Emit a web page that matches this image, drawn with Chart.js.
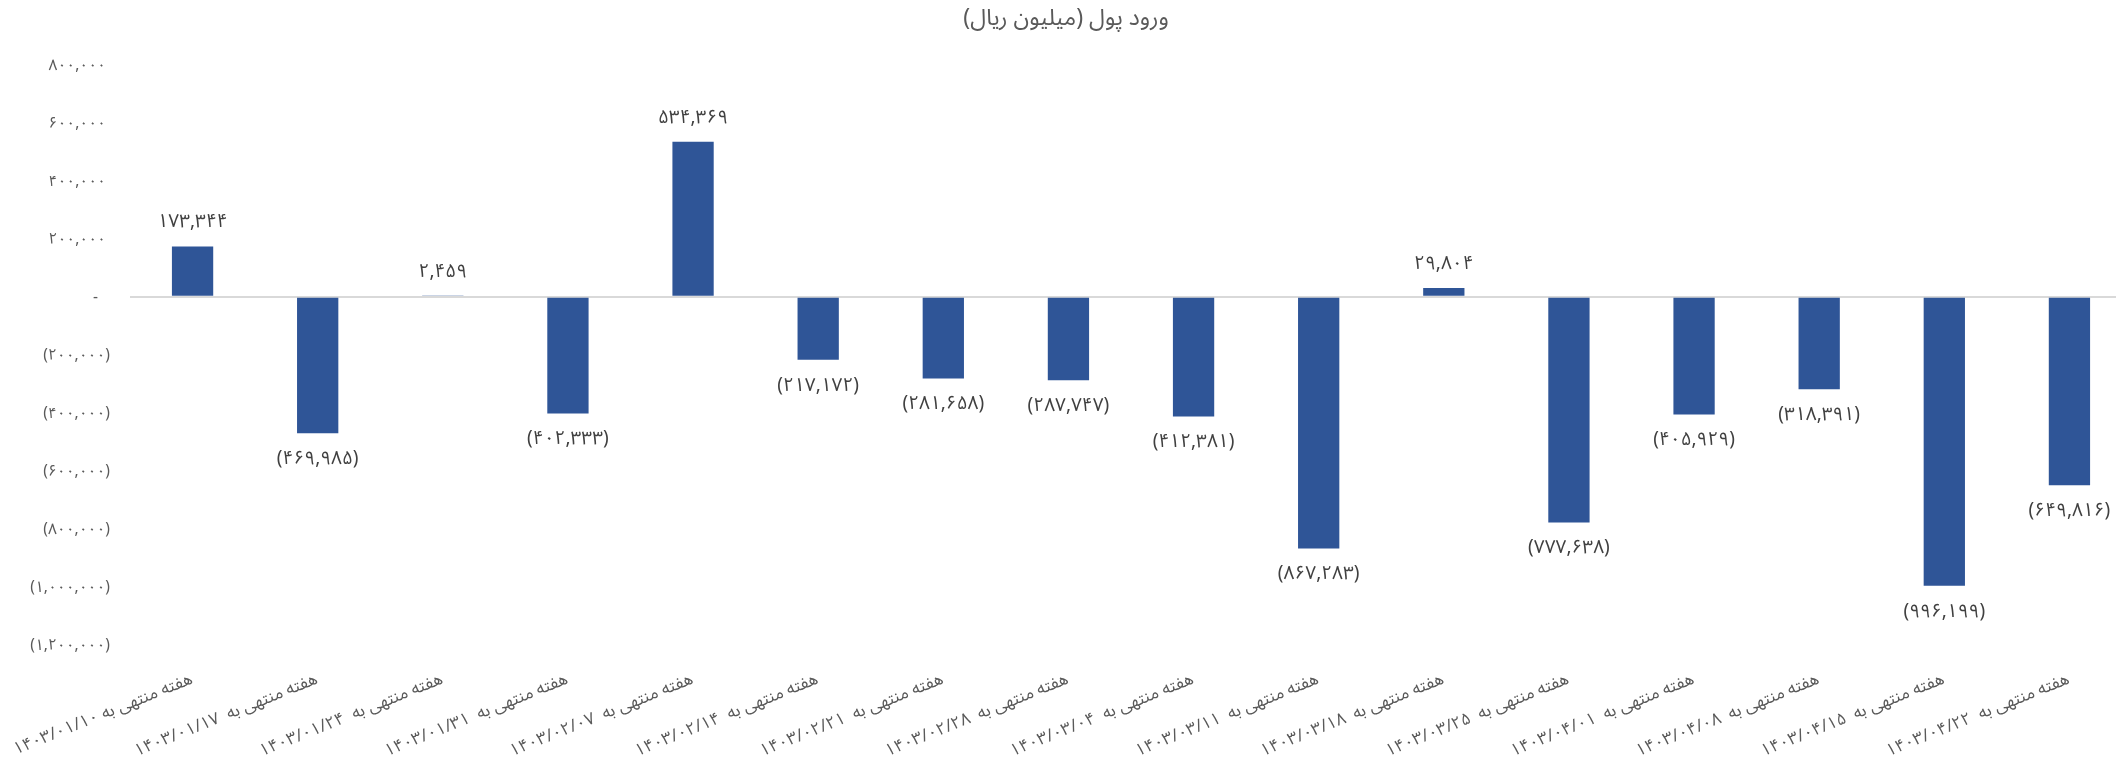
<!DOCTYPE html>
<html>
<head>
<meta charset="utf-8">
<title>ورود پول</title>
<script src="https://cdn.jsdelivr.net/npm/chart.js@4.4.1/dist/chart.umd.min.js"></script>
<style>
  html, body { margin: 0; padding: 0; background: #fff; overflow: hidden; }
  #wrap { width: 2132px; height: 767px; }
</style>
</head>
<body>
<div id="wrap"><canvas id="chartCashIn"></canvas></div>
<script>
// داده‌ها
var chartTitle = "ورود پول (میلیون ریال)";
var weekLabels = [
  "هفته منتهی به ۱۴۰۳/۰۱/۱۰",
  "هفته منتهی به  ۱۴۰۳/۰۱/۱۷",
  "هفته منتهی به  ۱۴۰۳/۰۱/۲۴",
  "هفته منتهی به  ۱۴۰۳/۰۱/۳۱",
  "هفته منتهی به  ۱۴۰۳/۰۲/۰۷",
  "هفته منتهی به  ۱۴۰۳/۰۲/۱۴",
  "هفته منتهی به  ۱۴۰۳/۰۲/۲۱",
  "هفته منتهی به  ۱۴۰۳/۰۲/۲۸",
  "هفته منتهی به  ۱۴۰۳/۰۳/۰۴",
  "هفته منتهی به  ۱۴۰۳/۰۳/۱۱",
  "هفته منتهی به  ۱۴۰۳/۰۳/۱۸",
  "هفته منتهی به  ۱۴۰۳/۰۳/۲۵",
  "هفته منتهی به  ۱۴۰۳/۰۴/۰۱",
  "هفته منتهی به  ۱۴۰۳/۰۴/۰۸",
  "هفته منتهی به  ۱۴۰۳/۰۴/۱۵",
  "هفته منتهی به  ۱۴۰۳/۰۴/۲۲"
];
var cashIn = [173344, -469985, 2459, -402333, 534369, -217172, -281658, -287747,
              -412381, -867283, 29804, -777638, -405929, -318391, -996199, -649816];
var yTickValues = [800000, 600000, 400000, 200000, 0, -200000, -400000,
                   -600000, -800000, -1000000, -1200000];

var fontFamily = "'Noto Sans Arabic', 'DejaVu Sans', sans-serif";

// اعداد فارسی با جداکننده هزارگان، منفی داخل پرانتز
function faDigits(s) {
  return String(s).replace(/\d/g, function (d) { return "۰۱۲۳۴۵۶۷۸۹"[d]; });
}
function fmt(v) {
  var s = faDigits(Math.abs(v).toLocaleString("en-US"));
  return v < 0 ? "(" + s + ")" : s;
}

// برچسب مقدار بالای/پایین هر ستون
var valueLabels = {
  id: "valueLabels",
  afterDatasetsDraw: function (chart) {
    var ctx = chart.ctx;
    var meta = chart.getDatasetMeta(0);
    ctx.save();
    ctx.font = "19px " + fontFamily;
    ctx.fillStyle = "#404040";
    ctx.textAlign = "center";
    ctx.textBaseline = "middle";
    meta.data.forEach(function (bar, i) {
      var v = cashIn[i];
      var y = v >= 0 ? bar.y - 22 : bar.y + 28;
      ctx.fillText(fmt(v), bar.x, y);
    });
    ctx.restore();
  }
};

var ctx = document.getElementById("chartCashIn");
var chart = new Chart(ctx, {
  type: "bar",
  data: {
    labels: weekLabels,
    datasets: [{
      data: cashIn,
      backgroundColor: "#2F5597",
      borderWidth: 0,
      barPercentage: 0.66,
      categoryPercentage: 0.5
    }]
  },
  options: {
    responsive: true,
    maintainAspectRatio: false,
    animation: false,
    layout: { padding: 0 },
    plugins: {
      legend: { display: false },
      tooltip: { enabled: false },
      title: {
        display: true,
        text: chartTitle,
        color: "#595959",
        font: { family: fontFamily, size: 23, weight: "normal" },
        padding: { top: 8, bottom: 29 }
      }
    },
    scales: {
      x: {
        grid: { display: false, drawTicks: false },
        border: { display: false },
        ticks: {
          autoSkip: false,
          minRotation: 22,
          maxRotation: 22,
          padding: 26,
          color: "#595959",
          font: { family: fontFamily, size: 17 }
        },
        afterFit: function (scale) {
          scale.height = 122;
          scale.paddingLeft = 0;
          scale.paddingRight = 0;
        }
      },
      y: {
        min: -1200000,
        max: 800000,
        border: { display: false },
        grid: {
          drawTicks: false,
          lineWidth: 2,
          color: function (c) { return c.tick && c.tick.value === 0 ? "#D9D9D9" : "rgba(0,0,0,0)"; }
        },
        afterBuildTicks: function (scale) {
          scale.ticks = yTickValues.map(function (v) { return { value: v }; });
        },
        ticks: {
          padding: 20,
          labelOffset: 3,
          color: "#595959",
          font: { family: fontFamily, size: 15.5 },
          callback: function (v) {
            if (v === 0) return "-   ";
            return v > 0 ? fmt(v) + " " : fmt(v);
          }
        },
        afterFit: function (scale) {
          scale.width = 130;
        }
      }
    }
  },
  plugins: [valueLabels]
});
</script>
</body>
</html>
